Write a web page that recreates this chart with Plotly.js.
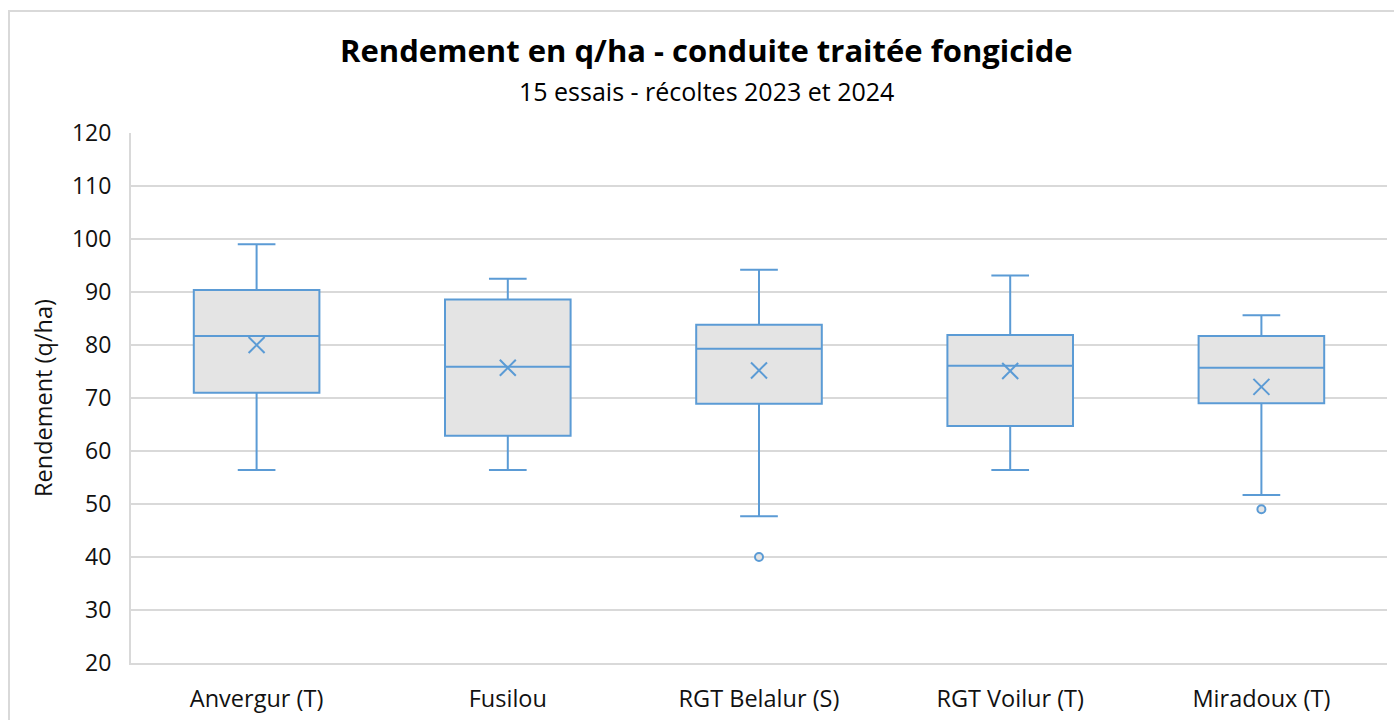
<!DOCTYPE html>
<html>
<head>
<meta charset="utf-8">
<script src="https://cdn.plot.ly/plotly-3.0.1.min.js"></script>
<style>
  html, body { margin: 0; padding: 0; background: #fff; overflow: hidden; }
  #wrap { position: relative; width: 1394px; height: 720px; }
  #chart { position: absolute; left: 0; top: 0; width: 1394px; height: 720px; }
  #frame { position: absolute; left: 8px; top: 10px; width: 1400px; height: 730px;
           border: 2px solid #d9d9d9; pointer-events: none; box-sizing: border-box; }
</style>
</head>
<body>
<div id="wrap">
  <div id="chart"></div>
  <div id="frame"></div>
</div>
<script>
// Variety categories
const varieties = ["Anvergur (T)", "Fusilou", "RGT Belalur (S)", "RGT Voilur (T)", "Miradoux (T)"];
// Box statistics (q/ha)
const upperWhisker = [99.0, 92.5, 94.2, 93.1, 85.6];
const q3Values     = [90.4, 88.6, 83.8, 81.9, 81.7];
const medianValues = [81.7, 75.9, 79.3, 76.1, 75.7];
const q1Values     = [71.0, 62.9, 68.9, 64.7, 69.0];
const lowerWhisker = [56.4, 56.4, 47.7, 56.4, 51.7];
const meanValues   = [80.0, 75.7, 75.2, 75.1, 72.1];
// Outliers
const outlierVarieties = ["RGT Belalur (S)", "Miradoux (T)"];
const outlierValues    = [40.0, 49.0];

const blue = "#5b9bd5";
const fontFam = "'Open Sans', Lato, sans-serif";
const txt = "#111111";

const traces = [
  {
    type: "box",
    x: varieties,
    q1: q1Values,
    median: medianValues,
    q3: q3Values,
    lowerfence: lowerWhisker,
    upperfence: upperWhisker,
    width: 0.5,
    whiskerwidth: 0.3,
    fillcolor: "#e4e4e4",
    line: { color: blue, width: 2 },
    boxpoints: false,
    hoverinfo: "y",
    showlegend: false
  },
  {
    type: "scatter",
    mode: "markers",
    x: varieties,
    y: meanValues,
    marker: { symbol: "x-thin-open", size: 16, color: blue, line: { color: blue, width: 2 } },
    showlegend: false,
    hoverinfo: "y"
  },
  {
    type: "scatter",
    mode: "markers",
    x: outlierVarieties,
    y: outlierValues,
    marker: { symbol: "circle", size: 8, color: "#e4e4e4", line: { color: blue, width: 2 } },
    showlegend: false,
    hoverinfo: "y"
  }
];

const layout = {
  width: 1394,
  height: 720,
  margin: { l: 131, r: 7, t: 133, b: 57 },
  paper_bgcolor: "#ffffff",
  plot_bgcolor: "#ffffff",
  font: { family: fontFam, color: txt, size: 23 },
  showlegend: false,
  xaxis: {
    type: "category",
    categoryorder: "array",
    categoryarray: varieties,
    range: [-0.5, 4.5],
    showgrid: false,
    showline: true,
    linecolor: "#d9d9d9",
    linewidth: 2,
    zeroline: false,
    ticks: "",
    ticklabelstandoff: 14,
    tickfont: { family: fontFam, size: 23.5, color: txt },
    fixedrange: true
  },
  yaxis: {
    range: [20, 120],
    tick0: 20,
    dtick: 10,
    showgrid: true,
    gridcolor: "#d9d9d9",
    gridwidth: 2,
    showline: true,
    linecolor: "#d9d9d9",
    linewidth: 2,
    zeroline: false,
    ticks: "",
    ticklabelstandoff: 13,
    tickfont: { family: fontFam, size: 23, color: txt },
    title: { text: "Rendement (q/ha)", font: { family: fontFam, size: 23.5, color: txt }, standoff: 13 },
    fixedrange: true
  },
  annotations: [
    {
      xref: "paper", yref: "paper",
      x: (706 - 131) / 1256, y: (663 - 50) / 530,
      xanchor: "center", yanchor: "middle",
      text: "<b>Rendement en q/ha - conduite traitée fongicide</b>",
      showarrow: false,
      font: { family: fontFam, size: 31, color: "#000" }
    },
    {
      xref: "paper", yref: "paper",
      x: (706 - 131) / 1256, y: (663 - 91) / 530,
      xanchor: "center", yanchor: "middle",
      text: "15 essais - récoltes 2023 et 2024",
      showarrow: false,
      font: { family: fontFam, size: 25, color: "#000" }
    }
  ]
};

Plotly.newPlot("chart", traces, layout, { displayModeBar: false, staticPlot: true });
</script>
</body>
</html>
